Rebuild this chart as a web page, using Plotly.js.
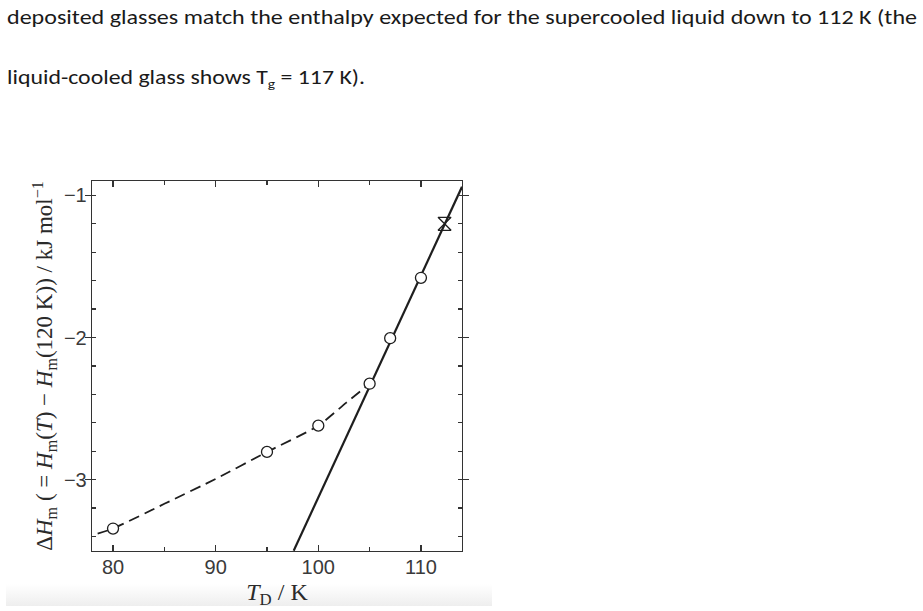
<!DOCTYPE html>
<html>
<head>
<meta charset="utf-8">
<script src="https://cdn.plot.ly/plotly-3.0.1.min.js"></script>
<style>
  html, body { margin: 0; padding: 0; background: #ffffff; }
  #page { position: relative; width: 923px; height: 611px; overflow: hidden; background: #ffffff; }
  #band { position: absolute; left: 6px; top: 584px; width: 486px; height: 22px;
          background: linear-gradient(#ffffff, #eeeeee); }
  #para { position: absolute; left: 0; top: 0; }
  #chart { position: absolute; left: 0; top: 0; width: 923px; height: 611px; }
</style>
</head>
<body>
<div id="page">
  <div id="band"></div>
  <svg id="para" width="923" height="120" xmlns="http://www.w3.org/2000/svg">
    <text x="7" y="24" font-family="Carlito, Calibri, 'Open Sans', Lato, sans-serif" font-size="20" fill="#1a1a1a"
          textLength="910" lengthAdjust="spacingAndGlyphs">deposited glasses match the enthalpy expected for the supercooled liquid down to 112 K (the</text>
    <text x="7" y="84" font-family="Carlito, Calibri, 'Open Sans', Lato, sans-serif" font-size="20" fill="#1a1a1a"
          textLength="358" lengthAdjust="spacingAndGlyphs">liquid-cooled glass shows T<tspan font-size="13" dy="4">g</tspan><tspan dy="-4"> = 117 K).</tspan></text>
  </svg>
  <div id="chart"></div>
</div>
<script>
// Vapour-deposited glasses (open circles, dashed guide)
const depT   = [80, 95, 100, 105, 107, 110];
const depDH  = [-3.344, -2.805, -2.62, -2.325, -2.005, -1.58];
// Dashed guide curve through the glass data
const guideT  = [78.5, 80, 85, 90, 95, 100, 102.7, 105];
const guideDH = [-3.38, -3.344, -3.17, -2.995, -2.805, -2.62, -2.46, -2.325];
// Supercooled liquid line (solid)
const liqT  = [97.6, 114.0];
const liqDH = [-3.5, -0.94];
// Liquid-cooled glass reference point (hourglass marker)
const refT  = [112.3];
const refDH = [-1.2];
// Tick positions and labels
const xTickVals = [80, 90, 100, 110];
const xTickText = ['80', '90', '100', '110'];
const yTickVals = [-3, -2, -1];
const yTickText = ['\u22123', '\u22122', '\u22121'];

const ink = '#1e1e1e';
const traces = [
  { x: guideT, y: guideDH, mode: 'lines', type: 'scatter',
    line: { color: ink, width: 1.8, dash: '11px,6px', shape: 'spline', smoothing: 0.6 },
    hoverinfo: 'skip', showlegend: false },
  { x: liqT, y: liqDH, mode: 'lines', type: 'scatter',
    line: { color: ink, width: 2.2 }, showlegend: false },
  { x: depT, y: depDH, mode: 'markers', type: 'scatter',
    marker: { symbol: 'circle', size: 11, color: '#ffffff', line: { color: ink, width: 1.3 } },
    showlegend: false },
  { x: refT, y: refDH, mode: 'markers', type: 'scatter',
    marker: { symbol: 'hourglass-open', size: 13, color: ink, line: { color: ink, width: 1.3 } },
    showlegend: false }
];

const layout = {
  width: 923, height: 611,
  paper_bgcolor: 'rgba(0,0,0,0)', plot_bgcolor: 'rgba(0,0,0,0)',
  margin: { l: 92, r: 461, t: 181, b: 60 },
  showlegend: false,
  font: { family: 'Liberation Sans, Arial, sans-serif', size: 20, color: '#3a3a3a' },
  xaxis: {
    range: [77.95, 114.0], tickmode: 'array', tickvals: xTickVals, ticktext: xTickText,
    ticks: 'inside', ticklen: 6, tickwidth: 1.2, tickcolor: '#333',
    minor: { tickmode: 'linear', tick0: 80, dtick: 5, ticks: 'inside', ticklen: 4, tickwidth: 1.2, tickcolor: '#333', showgrid: false },
    showline: true, linecolor: '#333', linewidth: 1.3, mirror: 'ticks',
    showgrid: false, zeroline: false, ticklabelstandoff: -2,
    tickfont: { family: 'Liberation Sans, Arial, sans-serif', size: 20, color: '#3a3a3a' },
    title: { text: '<i>T</i><sub>D</sub> / K',
             font: { family: 'Liberation Serif, Times New Roman, serif', size: 24, color: '#2a2a2a' }, standoff: 6 }
  },
  yaxis: {
    range: [-3.502, -0.899], tickmode: 'array', tickvals: yTickVals, ticktext: yTickText,
    ticks: 'outside', ticklen: 6, tickwidth: 1.2, tickcolor: '#333',
    minor: { tickmode: 'linear', tick0: -3, dtick: 0.2, ticks: 'inside', ticklen: 4, tickwidth: 1.2, tickcolor: '#333', showgrid: false },
    showline: true, linecolor: '#333', linewidth: 1.3, mirror: 'ticks',
    showgrid: false, zeroline: false, ticklabelstandoff: -6,
    tickfont: { family: 'Liberation Sans, Arial, sans-serif', size: 20, color: '#3a3a3a' },
    title: { text: 'Δ<i>H</i><sub>m</sub> ( = <i>H</i><sub>m</sub>(<i>T</i>) − <i>H</i><sub>m</sub>(120 K)) / kJ mol<sup>−1</sup>',
             font: { family: 'Liberation Serif, Times New Roman, serif', size: 23, color: '#2a2a2a' }, standoff: 4 }
  }
};

Plotly.newPlot('chart', traces, layout, { staticPlot: true, displayModeBar: false });
</script>
</body>
</html>
